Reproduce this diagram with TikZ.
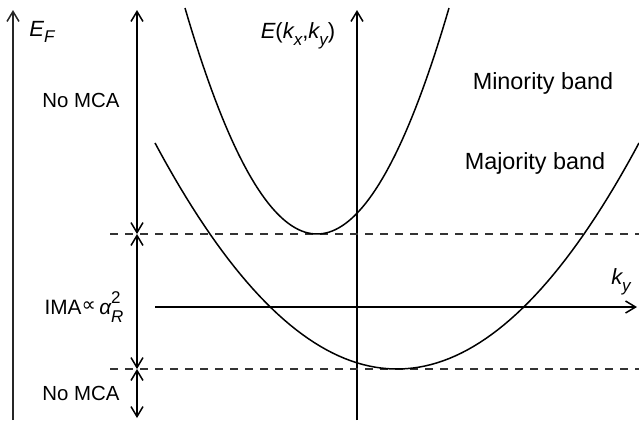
\documentclass[tikz,border=0pt]{standalone}
\usepackage{fontspec}
\setmainfont{Liberation Sans}
\newfontfamily\symfont{DejaVu Sans}
\usetikzlibrary{arrows.meta}
\newcommand{\lo}[1]{\raisebox{-0.3em}{\fontsize{8.5}{9}\selectfont\itshape #1}}
\begin{document}
\fontsize{10.2}{12}\selectfont
\begin{tikzpicture}[x=0.5pt, y=-0.5pt, line width=0.75pt,
    tip/.style={-{Straight Barb[length=5pt,width=6pt]}},
    tips/.style={{Straight Barb[length=5pt,width=6pt]}-{Straight Barb[length=5pt,width=6pt]}},
    level/.style={dashed, dash pattern=on 4pt off 3.5pt, draw=black!80},
    lbl/.style={inner sep=0pt},
    big/.style={lbl, font=\fontsize{11.7}{14}\selectfont},
    axlbl/.style={lbl, font=\fontsize{11}{13}\selectfont\itshape}]
  \useasboundingbox (0,0) rectangle (639,420);

  % axes
  \coordinate (ef0) at (13,420);  \coordinate (ef1) at (13,10);
  \coordinate (e0) at (357,420);  \coordinate (e1) at (357,10);
  \coordinate (k0) at (155,307);  \coordinate (k1) at (637,307);
  \draw[tip, draw=black!85] (ef0) -- (ef1);
  \draw[tip] (e0) -- (e1);
  \draw[tip] (k0) -- (k1);

  % levels
  \coordinate (top) at (137,10);
  \coordinate (up) at (137,234);
  \coordinate (low) at (137,369);
  \coordinate (bot) at (137,418);
  \draw[level] (110,234) -- (639,234);
  \draw[level] (110,369) -- (639,369);
  \draw[tips] (top) -- (up);
  \draw[tips] (up) -- (low);
  \draw[tips] (low) -- (bot);

  % bands
  \draw[domain=185:449, samples=80] plot (\x,{234-1.297*((\x-317)/10)^2});
  \draw[domain=155:639, samples=80] plot (\x,{369-0.386*((\x-397)/10)^2});

  \node[axlbl] (ef) at (42,32) {E\lo{F}};
  \node[axlbl] (e) at (298,36) {E\upshape(\itshape k\lo{x}\upshape,\itshape k\lo{y}\upshape)};
  \node[axlbl] (ky) at (621,282) {k\lo{y}};
  \node[big] (min) at (543,83) {Minority band};
  \node[big] (maj) at (535,163) {Majority band};
  \node[lbl] (no1) at (81,100) {No MCA};
  \node[lbl, font=\fontsize{10.4}{12}\selectfont] (ima) at (84,307) {IMA\raisebox{0.15em}{\symfont\fontsize{10}{11}\selectfont∝}\,\itshape α\rlap{\raisebox{0.55em}{\upshape\fontsize{8.5}{9}\selectfont 2}}\raisebox{-0.4em}{\fontsize{8.5}{9}\selectfont R}};
  \node[lbl] (no2) at (81,393) {No MCA};
\end{tikzpicture}
\end{document}
